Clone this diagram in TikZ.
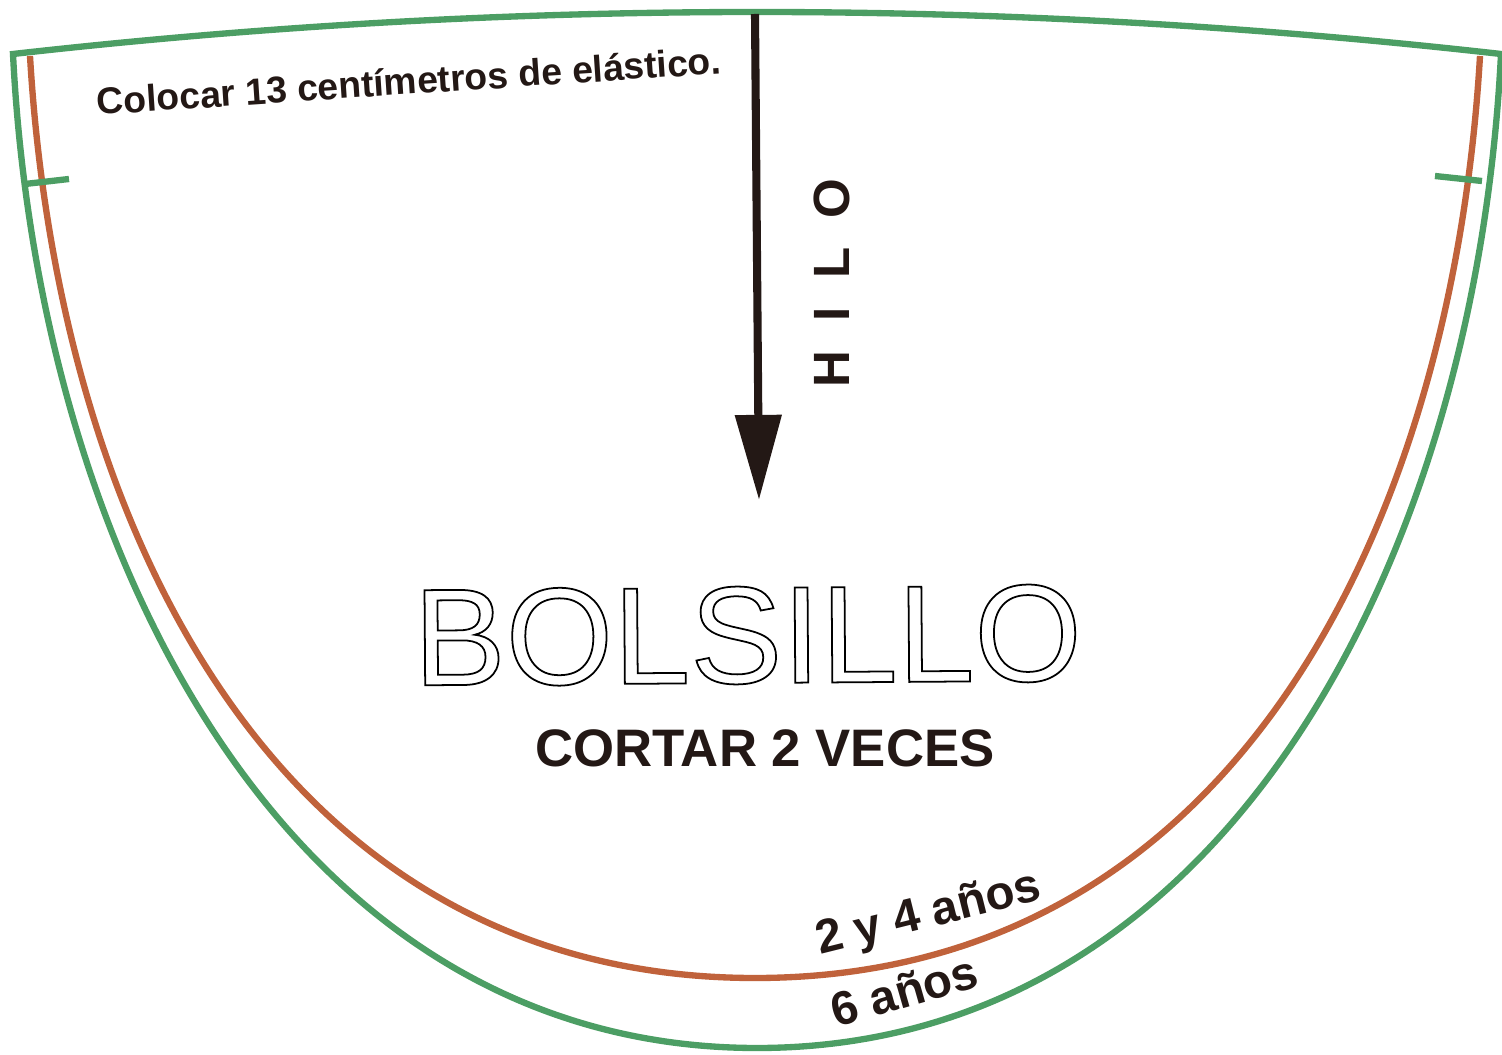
\documentclass[tikz,border=0pt]{standalone}
\usepackage{fontspec}
\setmainfont{Liberation Sans}
\usetikzlibrary{arrows.meta}
\definecolor{patgreen}{RGB}{76,158,100}
\definecolor{patorange}{RGB}{192,98,59}
\definecolor{patink}{RGB}{35,24,21}
\newcommand{\outlinetext}[1]{\special{pdf:literal direct 1 Tr 0.5 w}#1\special{pdf:literal direct 0 Tr}}
\begin{document}
\begin{tikzpicture}[x=0.01cm,y=-0.01cm,
        cutline/.style={line width=1.8pt,patgreen},
        sewline/.style={line width=1.8pt,patorange},
        patterntext/.style={text=patink,inner sep=0pt}]
    \useasboundingbox (0,0) rectangle (1502,1055);

    \draw[cutline] (13,54) .. controls (38,554) and (287,1048) .. (757,1048) .. controls (1227,1048) and (1476,554) .. (1501,54) .. controls (1005,-2) and (509,-2) .. cycle;
    \draw[sewline] (30,56) .. controls (57,516) and (270,978) .. (755,978) .. controls (1240,978) and (1453,516) .. (1480,56);
    \draw[cutline] (25,184) -- (69,179);
    \draw[cutline] (1435,176) -- (1482,181);

    \coordinate (hilotop) at (755,14);
    \coordinate (hilotip) at (759,500);
    \draw[line width=2.3pt,patink,-{Triangle[width=12.8pt,length=24.2pt]}] (hilotop) -- (hilotip);
    \node[patterntext,font=\bfseries\fontsize{14.5}{16}\selectfont,rotate=90] (hilo) at (832,283) {\spaceskip=8.2pt H I L O};

    \node[patterntext,font=\bfseries\fontsize{10.6}{12}\selectfont,anchor=base west,rotate=3.8] (elastico) at (97,115) {Colocar 13 centímetros de elástico.};
    \node[patterntext,text=black,font=\fontsize{39.3}{41}\selectfont,anchor=base,rotate=0.4] (bolsillo) at (748,683) {\outlinetext{BOLSILLO}};
    \node[patterntext,font=\bfseries\fontsize{15}{18}\selectfont,anchor=base] (cortar) at (765,767) {CORTAR 2 VECES};
    \node[patterntext,font=\bfseries\fontsize{13.5}{16}\selectfont,anchor=base,rotate=14] (talla24) at (932,927) {2 y 4 años};
    \node[patterntext,font=\bfseries\fontsize{13.5}{16}\selectfont,anchor=base,rotate=16] (talla6) at (909,1007) {6 años};
\end{tikzpicture}
\end{document}
